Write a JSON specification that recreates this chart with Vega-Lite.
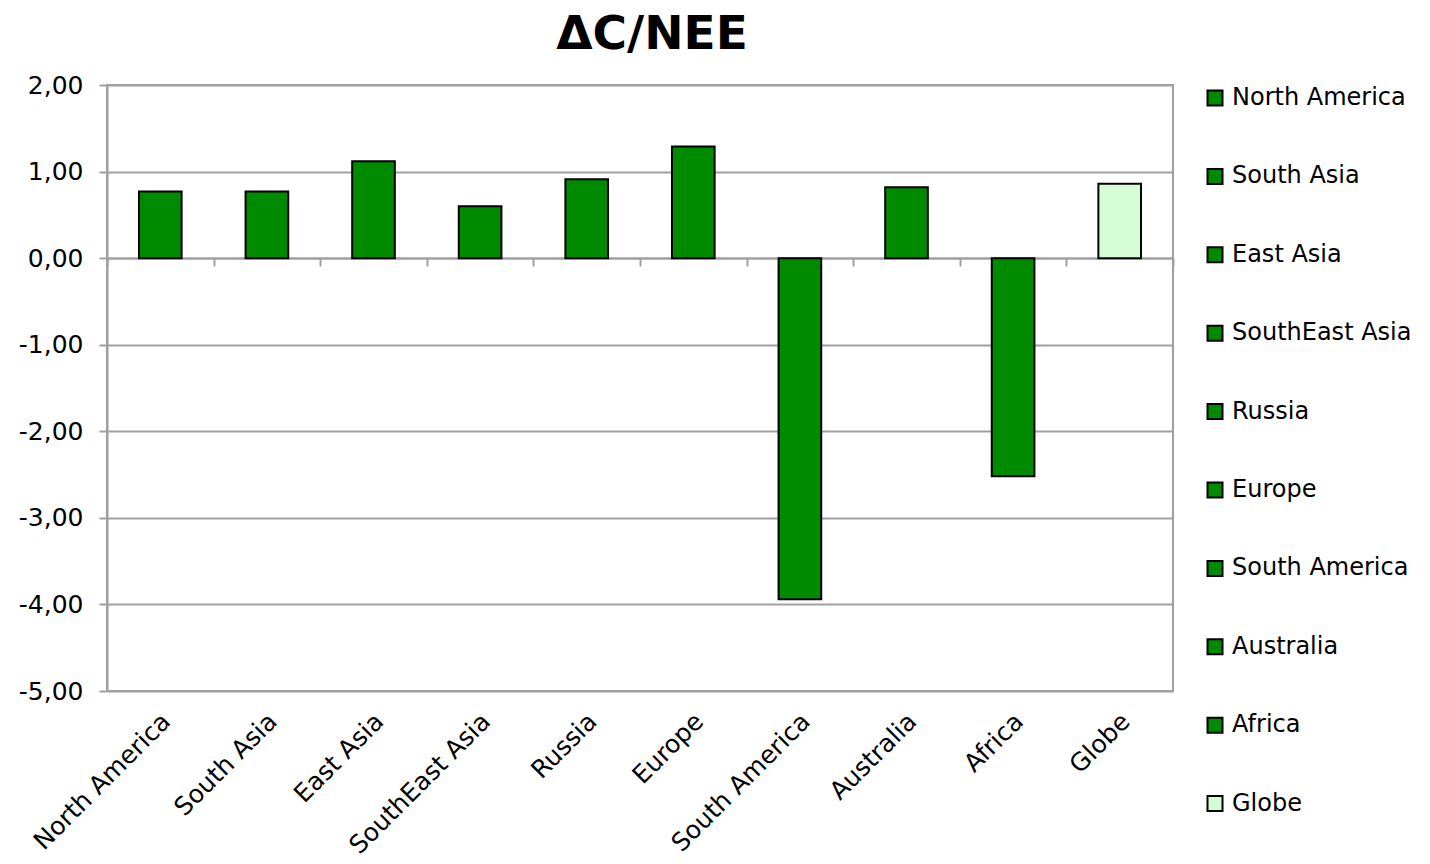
{
  "$schema": "https://vega.github.io/schema/vega-lite/v6.json",
  "autosize": "none",
  "width": 1066,
  "height": 606,
  "padding": {"left": 107, "top": 85, "right": 257, "bottom": 173},
  "background": "white",
  "title": {
    "text": "ΔC/NEE",
    "font": "DejaVu Sans",
    "fontSize": 47,
    "fontWeight": "bold",
    "color": "black",
    "anchor": "middle",
    "dx": 12,
    "offset": 14
  },
  "config": {
    "font": "DejaVu Sans",
    "view": {"stroke": "#a0a0a0", "strokeWidth": 2},
    "axis": {
      "labelFont": "DejaVu Sans",
      "labelColor": "black",
      "gridColor": "#a0a0a0",
      "gridWidth": 2,
      "domainColor": "#a0a0a0",
      "domainWidth": 2,
      "tickColor": "#a0a0a0",
      "tickWidth": 2
    }
  },
  "data": {
    "values": [
      {"region": "North America", "value": 0.77},
      {"region": "South Asia", "value": 0.77},
      {"region": "East Asia", "value": 1.12},
      {"region": "SouthEast Asia", "value": 0.60},
      {"region": "Russia", "value": 0.91},
      {"region": "Europe", "value": 1.29},
      {"region": "South America", "value": -3.94},
      {"region": "Australia", "value": 0.82},
      {"region": "Africa", "value": -2.52},
      {"region": "Globe", "value": 0.86}
    ]
  },
  "encoding": {
    "y": {
      "field": "value",
      "type": "quantitative",
      "scale": {"domain": [-5, 2], "nice": false, "zero": false}
    }
  },
  "layer": [
    {
      "mark": {"type": "bar", "stroke": "black", "strokeWidth": 2},
      "encoding": {
        "x": {
          "field": "region",
          "type": "nominal",
          "sort": null,
          "title": null,
          "scale": {"paddingInner": 0.6, "paddingOuter": 0.3},
          "axis": {
            "orient": "bottom",
            "domain": false,
            "ticks": false,
            "labelAngle": -45,
            "labelFontSize": 25,
            "labelPadding": 26,
            "labelOffset": 6,
            "labelAlign": "right",
            "labelBaseline": "middle",
            "labelLimit": 400
          }
        },
        "y": {
          "field": "value",
          "type": "quantitative",
          "title": null,
          "axis": {
            "values": [-5, -4, -3, -2, -1, 0, 1, 2],
            "grid": true,
            "domain": true,
            "ticks": true,
            "tickSize": 8,
            "labelFontSize": 25,
            "labelPadding": 16,
            "labelExpr": "replace(replace(format(datum.value, '.2f'), '.', ','), '−', '-')"
          }
        },
        "fill": {
          "field": "region",
          "type": "nominal",
          "sort": null,
          "title": null,
          "scale": {
            "domain": ["North America", "South Asia", "East Asia", "SouthEast Asia", "Russia", "Europe", "South America", "Australia", "Africa", "Globe"],
            "range": ["#008a00", "#008a00", "#008a00", "#008a00", "#008a00", "#008a00", "#008a00", "#008a00", "#008a00", "#d6fcd6"]
          },
          "legend": {
            "orient": "none",
            "legendX": 1096,
            "legendY": 1,
            "padding": 0,
            "symbolType": "square",
            "symbolSize": 225,
            "symbolStrokeColor": "black",
            "symbolStrokeWidth": 2,
            "labelFont": "DejaVu Sans",
            "labelFontSize": 24,
            "labelColor": "black",
            "labelOffset": 5,
            "labelLimit": 300,
            "rowPadding": 54.4
          }
        }
      }
    },
    {
      "mark": {"type": "rule", "opacity": 0},
      "encoding": {
        "x": {
          "field": "region",
          "type": "nominal",
          "sort": null,
          "title": null,
          "scale": {"paddingInner": 0, "paddingOuter": 0},
          "axis": {
            "orient": "top",
            "offset": -173,
            "labels": false,
            "domain": true,
            "ticks": true,
            "tickBand": "extent",
            "tickSize": -8,
            "grid": false
          }
        }
      }
    }
  ],
  "resolve": {"scale": {"x": "independent"}, "axis": {"x": "independent"}}
}
